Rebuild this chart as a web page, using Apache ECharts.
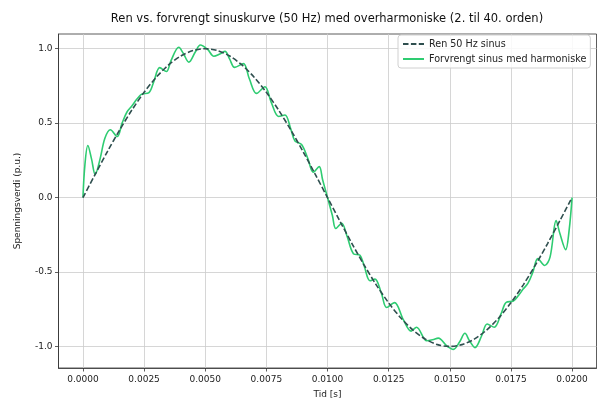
<!DOCTYPE html>
<html>
<head>
<meta charset="utf-8">
<script src="https://cdn.jsdelivr.net/npm/echarts@6/dist/echarts.min.js"></script>
<style>
html,body{margin:0;padding:0;background:#fff;}
#chart{width:598px;height:404px;}
</style>
</head>
<body>
<div id="chart"></div>
<script>
// Pure 50 Hz sine
const tPure = [0,0.0005,0.001,0.0015,0.002,0.0025,0.003,0.0035,0.004,0.0045,0.005,0.0055,0.006,0.0065,0.007,0.0075,0.008,0.0085,0.009,0.0095,0.01,
  0.0105,0.011,0.0115,0.012,0.0125,0.013,0.0135,0.014,0.0145,0.015,0.0155,0.016,0.0165,0.017,0.0175,0.018,0.0185,0.019,0.0195,0.02];
const vPure = [0,0.156,0.309,0.454,0.588,0.707,0.809,0.891,0.951,0.988,1.0,0.988,0.951,0.891,0.809,0.707,0.588,0.454,0.309,0.156,0,
  -0.156,-0.309,-0.454,-0.588,-0.707,-0.809,-0.891,-0.951,-0.988,-1.0,-0.988,-0.951,-0.891,-0.809,-0.707,-0.588,-0.454,-0.309,-0.156,0];

// Distorted sine with harmonics
const tDist = [0,0.00008,0.0002,0.00035,0.0005,0.0007,0.0009,0.00112,0.0014,0.0016,0.0018,0.002,0.0022,0.0024,0.0027,0.0029,
  0.00314,0.00341,0.0036,0.00392,0.0041,0.00433,0.0046,0.0048,0.0051,0.00535,0.0056,0.00581,0.006,0.0062,0.00656,0.0068,
  0.0071,0.00744,0.0077,0.008,0.00826,0.0085,0.00867,0.00894,0.0092,0.00942,0.00966,0.0098,0.01,
  0.0102,0.01034,0.01058,0.0108,0.01106,0.01133,0.0115,0.01174,0.01194,0.0122,0.01242,0.01274,0.0131,0.01342,0.01364,
  0.01406,0.0143,0.01453,0.0149,0.01515,0.0154,0.01562,0.0158,0.01603,0.0163,0.01653,0.01682,0.0171,0.0173,0.0176,0.0178,
  0.018,0.0182,0.0184,0.0186,0.01888,0.0191,0.01935,0.0195,0.01974,0.01988,0.02];
const vDist = [0,0.22,0.35,0.26,0.155,0.26,0.40,0.456,0.41,0.50,0.575,0.615,0.66,0.695,0.705,0.78,
  0.873,0.847,0.92,1.01,0.97,0.91,0.98,1.025,0.995,0.95,0.965,0.982,0.93,0.875,0.90,0.80,
  0.70,0.745,0.64,0.545,0.555,0.46,0.38,0.357,0.26,0.171,0.208,0.12,0,
  -0.12,-0.208,-0.172,-0.26,-0.377,-0.388,-0.46,-0.559,-0.548,-0.64,-0.739,-0.706,-0.82,-0.897,-0.871,
  -0.962,-0.955,-0.944,-1.0,-1.02,-0.97,-0.912,-0.96,-1.008,-0.93,-0.849,-0.871,-0.78,-0.705,-0.695,-0.66,
  -0.615,-0.575,-0.50,-0.41,-0.456,-0.40,-0.155,-0.24,-0.35,-0.22,0];

const xTicks = [0,0.0025,0.005,0.0075,0.01,0.0125,0.015,0.0175,0.02];
const yTicks = [-1.0,-0.5,0.0,0.5,1.0];

const titleText = 'Ren vs. forvrengt sinuskurve (50 Hz) med overharmoniske (2. til 40. orden)';
const nameOne = 'Ren 50 Hz sinus';
const nameTwo = 'Forvrengt sinus med harmoniske';

const pureData = tPure.map((t,i)=>[t,vPure[i]]);
const distData = tDist.map((t,i)=>[t,vDist[i]]);

const chart = echarts.init(document.getElementById('chart'), null, {renderer:'canvas'});
const font = 'DejaVu Sans';
chart.setOption({
  animation:false,
  backgroundColor:'#ffffff',
  textStyle:{fontFamily:font},
  title:{
    text:titleText, left:322, top:8, textAlign:'center',
    textStyle:{fontFamily:font, fontSize:11.5, fontWeight:'normal', color:'#111'}
  },
  legend:{
    orient:'vertical', left:398, top:35,
    itemWidth:21, itemHeight:9, itemGap:5,
    padding:[4,4,4,4],
    borderColor:'#d0d0d0', borderWidth:1, borderRadius:3,
    backgroundColor:'rgba(255,255,255,0.85)',
    itemStyle:{opacity:0},
    textStyle:{fontFamily:font, fontSize:9.6, color:'#222'},
    data:[nameOne,nameTwo]
  },
  grid:{left:58.5, top:34, width:538, height:341, show:true, borderColor:'#333', borderWidth:0.8, containLabel:false},
  xAxis:{
    type:'value', min:-0.001, max:0.021,
    name:'Tid [s]', nameLocation:'middle', nameGap:22,
    nameTextStyle:{fontFamily:font, fontSize:9, color:'#222'},
    axisLine:{show:true, onZero:false, lineStyle:{color:'#333', width:0.8}},
    axisTick:{show:true, inside:false, length:3.5, customValues:xTicks, lineStyle:{color:'#333', width:0.8}},
    axisLabel:{customValues:xTicks, fontFamily:font, fontSize:9, color:'#222', margin:7, formatter:v=>v.toFixed(4)},
    splitLine:{show:true, lineStyle:{color:'#cbcbcb', width:0.8}}
  },
  yAxis:{
    type:'value', min:-1.145, max:1.099,
    name:'Spenningsverdi (p.u.)', nameLocation:'middle', nameGap:36, nameRotate:90,
    nameTextStyle:{fontFamily:font, fontSize:9, color:'#222'},
    axisLine:{show:true, onZero:false, lineStyle:{color:'#333', width:0.8}},
    axisTick:{show:true, inside:false, length:3.5, customValues:yTicks, lineStyle:{color:'#333', width:0.8}},
    axisLabel:{customValues:yTicks, fontFamily:font, fontSize:9, color:'#222', margin:6, formatter:v=>v.toFixed(1)},
    splitLine:{show:true, lineStyle:{color:'#cbcbcb', width:0.8}}
  },
  series:[
    {name:nameOne, type:'line', data:pureData, showSymbol:false, symbol:'none', smooth:0.3, z:3,
     itemStyle:{color:'#2f4f4f'},
     lineStyle:{color:'#2f4f4f', width:1.6, type:[5.5,2.4]}},
    {name:nameTwo, type:'line', data:distData, showSymbol:false, symbol:'none', smooth:0.35, z:2,
     itemStyle:{color:'#2ecc71'},
     lineStyle:{color:'#2ecc71', width:1.6}}
  ]
});
</script>
</body>
</html>
